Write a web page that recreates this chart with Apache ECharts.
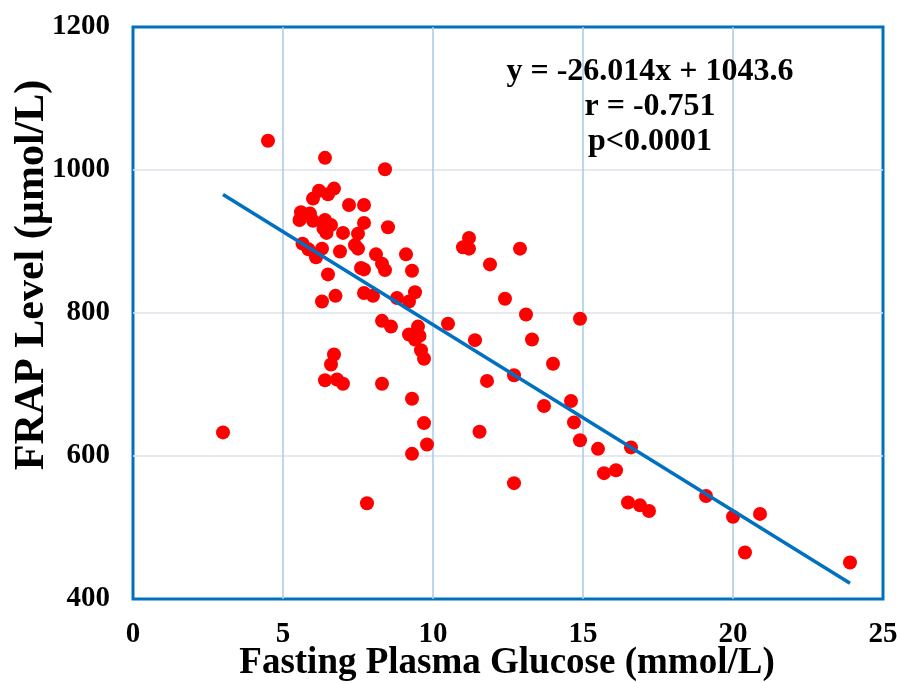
<!DOCTYPE html>
<html>
<head>
<meta charset="utf-8">
<script src="https://cdn.jsdelivr.net/npm/echarts@6/dist/echarts.min.js"></script>
<style>
html,body{margin:0;padding:0;background:#fff;}
#chart{width:901px;height:683px;}
</style>
</head>
<body>
<div id="chart"></div>
<script>
// Fasting plasma glucose (mmol/L)
const glucose = [3.0,4.5,6.4,8.4,6.2,6.5,6.7,6.0,7.2,7.7,5.6,5.9,5.55,6.0,6.4,6.6,6.35,6.45,7.7,8.5,7.0,7.5,7.4,7.5,5.65,5.85,6.3,6.1,6.9,8.1,9.1,8.3,8.4,7.6,7.7,9.3,6.5,6.75,6.3,7.7,8.0,8.8,9.2,9.4,8.3,8.6,9.2,9.5,9.55,9.4,9.6,9.7,10.5,11.0,11.2,11.2,11.9,11.4,6.7,6.6,6.4,6.8,7.0,8.3,9.3,9.7,9.8,9.3,11.55,13.7,12.7,12.9,12.4,13.1,14.9,13.3,14.0,12.7,11.8,14.6,14.7,14.9,15.5,16.6,15.7,16.1,16.5,16.9,17.2,19.1,20.0,20.9,20.4,23.9,7.8];
// FRAP level (µmol/L)
const frap = [633,1041,1017,1001,971,966,974,960,951,951,941,939,930,929,930,923,918,912,926,920,912,911,895,890,897,889,890,878,886,882,882,869,860,863,861,859,854,824,816,828,824,821,816,829,789,781,770,781,768,763,748,736,785,892,905,890,868,762,742,728,706,707,701,701,680,646,616,603,634,670,562,890,820,798,792,763,729,713,705,677,647,622,610,612,576,580,535,531,523,544,515,519,465,451,534];
// Trend line endpoints (x, y)
const trendX = [3.0, 23.9];
const trendY = [965.6, 421.9];
const xTicks = [0, 5, 10, 15, 20, 25];
const yTicks = [400, 600, 800, 1000, 1200];
const annotation = ["y = -26.014x + 1043.6", "r = -0.751", "p<0.0001"];
const xTitle = 'Fasting Plasma Glucose (mmol/L)';
const yTitle = 'FRAP Level (µmol/L)';

const chart = echarts.init(document.getElementById('chart'));
const font = '"Liberation Serif","Times New Roman",serif';
const points = glucose.map((g, i) => [g, frap[i]]);
const trend = trendX.map((x, i) => [x, trendY[i]]);

chart.setOption({
  animation: false,
  backgroundColor: '#ffffff',
  grid: {left: 133, right: 18, top: 27, bottom: 84, containLabel: false, outerBoundsMode: 'none', show: true, borderColor: '#0070C0', borderWidth: 3, backgroundColor: 'transparent'},
  xAxis: {
    type: 'value', min: xTicks[0], max: xTicks[xTicks.length-1], interval: 5,
    axisLine: {show: false}, axisTick: {show: false},
    axisLabel: {fontFamily: font, fontWeight: 'bold', fontSize: 29, color: '#000', margin: 21},
    splitLine: {show: true, showMinLine: false, showMaxLine: false, lineStyle: {color: '#A9C8E8', width: 1.5}}
  },
  yAxis: {
    type: 'value', min: yTicks[0], max: yTicks[yTicks.length-1], interval: 200,
    axisLine: {show: false}, axisTick: {show: false},
    axisLabel: {fontFamily: font, fontWeight: 'bold', fontSize: 29, color: '#000', margin: 23, formatter: v => String(v)},
    splitLine: {show: true, showMinLine: false, showMaxLine: false, lineStyle: {color: '#DDE3EC', width: 1.5}}
  },
  graphic: annotation.map((t, i) => ({
    type: 'text', x: 650, y: 72 + i*35, z: 10,
    style: {text: t, textAlign: 'center', textVerticalAlign: 'middle', fontFamily: font, fontWeight: 'bold', fontSize: 32, fill: '#000'}
  })).concat([{
    type: 'text', x: 32, y: 275, rotation: Math.PI / 2, z: 10,
    style: {text: yTitle, textAlign: 'center', textVerticalAlign: 'middle', fontFamily: font, fontWeight: 'bold', fontSize: 42, fill: '#000'}
  }, {
    type: 'text', x: 507, y: 663, z: 10,
    style: {text: xTitle, textAlign: 'center', textVerticalAlign: 'middle', fontFamily: font, fontWeight: 'bold', fontSize: 37, fill: '#000'}
  }]),
  series: [
    {type: 'scatter', data: points, symbol: 'circle', symbolSize: 14, itemStyle: {color: '#FF0000', opacity: 1}, z: 3},
    {type: 'line', data: trend, symbol: 'none', lineStyle: {color: '#0070C0', width: 3.5}, z: 4}
  ]
});
</script>
</body>
</html>
